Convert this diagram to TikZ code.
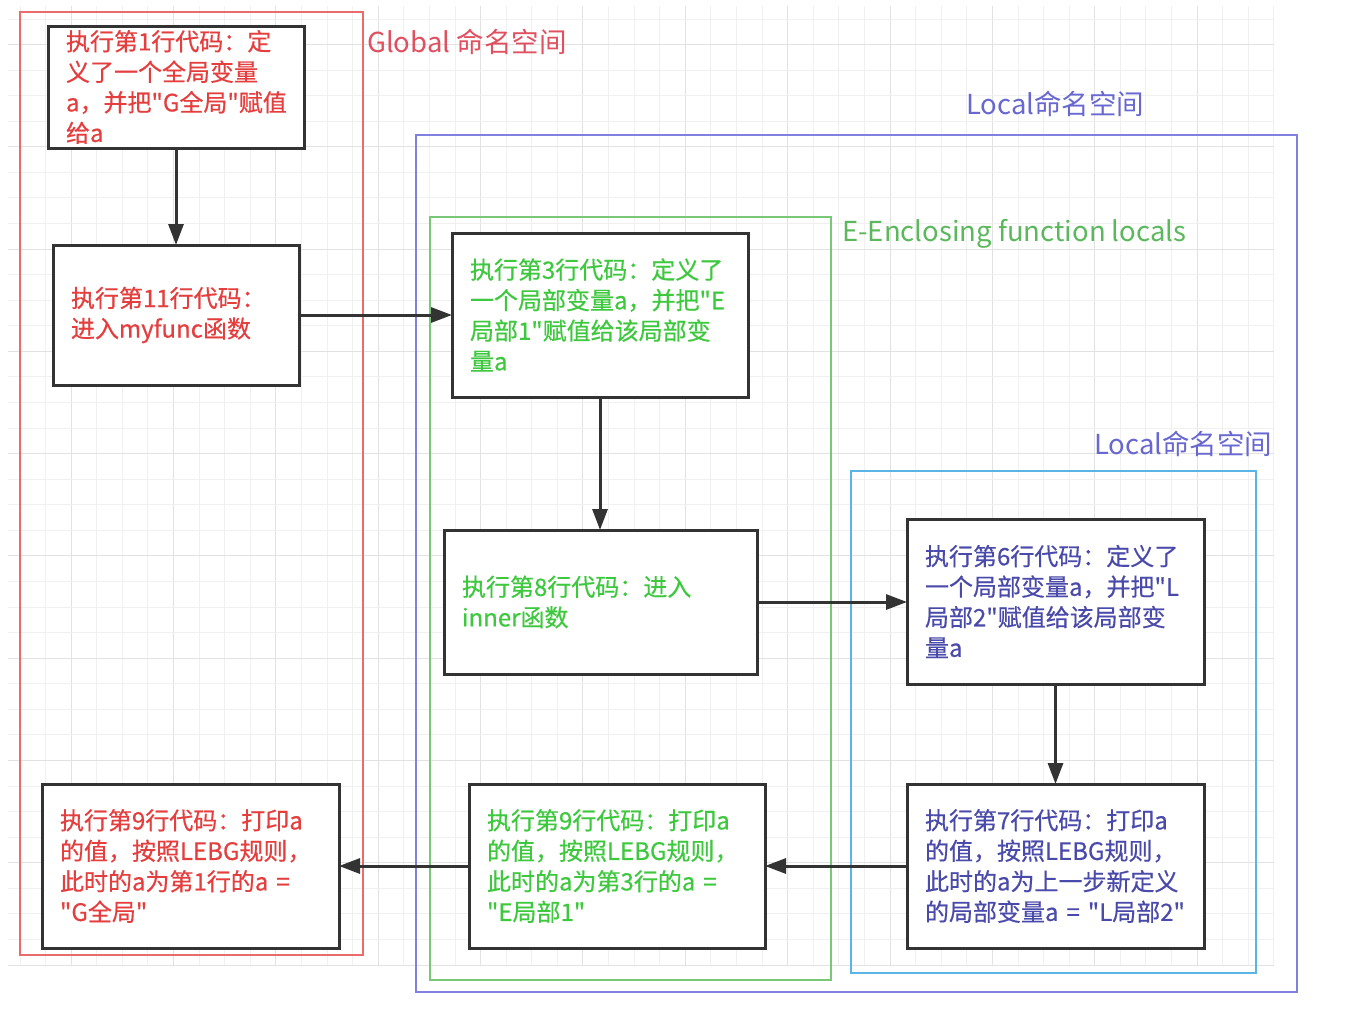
\documentclass[tikz,border=0pt]{standalone}
\usepackage{fontspec}
\setmainfont{Noto Sans CJK SC}[Ligatures=TeXOff]
\newfontfamily\stepfont{Noto Sans CJK SC}[Ligatures=TeXOff, FakeBold=0.5]
\usetikzlibrary{arrows.meta}
\definecolor{redtxt}{RGB}{228,62,62}
\definecolor{greentxt}{RGB}{62,200,62}
\definecolor{bluetxt}{RGB}{74,74,170}
\definecolor{redbox}{RGB}{234,107,107}
\definecolor{bluebox}{RGB}{128,128,224}
\definecolor{greenbox}{RGB}{120,200,120}
\definecolor{cyanbox}{RGB}{90,180,230}
\definecolor{glabel}{RGB}{224,80,96}
\definecolor{llabel}{RGB}{104,104,208}
\definecolor{elabel}{RGB}{92,184,92}
\definecolor{boxline}{RGB}{51,51,51}
\definecolor{gridminor}{RGB}{240,240,240}
\definecolor{gridmajor}{RGB}{226,226,226}
\tikzset{
  stepbox/.style={draw=boxline, line width=3pt, fill=white, inner xsep=18pt, inner ysep=0pt,
    outer sep=0pt, align=left, font=\stepfont\fontsize{24}{30.5}\selectfont},
  area/.style={draw=#1, line width=2pt, inner sep=0pt, outer sep=0pt},
  arealabel/.style={anchor=west, inner sep=0pt, text=#1, font=\fontsize{27.5}{30}\selectfont},
  arr/.style={draw=boxline, line width=3pt, -{Triangle[length=21pt,width=15pt]}}
}
\begin{document}
\begin{tikzpicture}[x=1pt,y=-1pt]
\useasboundingbox (0,0) rectangle (1354,1010);
\fill[white] (0,0) rectangle (1354,1010);
% grid
\foreach \k in {0,...,49}{
  \pgfmathsetmacro{\gx}{20+25.59*\k}
  \pgfmathtruncatemacro{\m}{mod(\k,4)}
  \ifnum\m=2
    \draw[gridmajor, line width=1pt] (\gx,6) -- (\gx,965);
  \else
    \draw[gridminor, line width=1pt] (\gx,6) -- (\gx,965);
  \fi
}
\foreach \k in {0,...,37}{
  \pgfmathsetmacro{\gy}{19+25.57*\k}
  \pgfmathtruncatemacro{\m}{mod(\k,4)}
  \ifnum\m=1
    \draw[gridmajor, line width=1pt] (8,\gy) -- (1274,\gy);
  \else
    \draw[gridminor, line width=1pt] (8,\gy) -- (1274,\gy);
  \fi
}
% namespace areas
\node[area=redbox, minimum width=343pt, minimum height=943pt] (gns) at (191.5,483.5) {};
\node[area=bluebox, minimum width=881pt, minimum height=857pt] (lns) at (856.5,563.5) {};
\node[area=greenbox, line width=1.6pt, minimum width=401pt, minimum height=763pt] (ens) at (630.5,598.5) {};
\node[area=cyanbox, minimum width=405pt, minimum height=502pt] (lns2) at (1053.5,722) {};
% area labels
\node[arealabel=glabel] (gl) at (367,42) {Global 命名空间};
\node[arealabel=llabel] (ll) at (966,104) {Local命名空间};
\node[arealabel=elabel] (el) at (842,234) {E-Enclosing function locals};
\node[arealabel=llabel] (ll2) at (1094,444) {Local命名空间};
% steps
\node[stepbox, text=redtxt, text width=220pt, minimum height=122pt] (n1) at (176,87)
  {执行第1行代码：定\\义了一个全局变量\\a，并把"G全局"赋值\\给a};
\node[stepbox, text=redtxt, text width=210pt, minimum height=140pt] (n2) at (176,315)
  {执行第11行代码：\\进入myfunc函数};
\node[stepbox, text=greentxt, text width=260pt, minimum height=164pt] (n3) at (600,315)
  {执行第3行代码：定义了\\一个局部变量a，并把"E\\局部1"赋值给该局部变\\量a};
\node[stepbox, text=greentxt, text width=277pt, minimum height=144pt] (n4) at (600.5,602)
  {执行第8行代码：进入\\inner函数};
\node[stepbox, text=bluetxt, text width=261pt, minimum height=165pt] (n5) at (1055.5,601.5)
  {执行第6行代码：定义了\\一个局部变量a，并把"L\\局部2"赋值给该局部变\\量a};
\node[stepbox, text=bluetxt, text width=261pt, minimum height=164pt] (n6) at (1055.5,866)
  {执行第7行代码：打印a\\的值，按照LEBG规则，\\此时的a为上一步新定义\\的局部变量a~=~"L局部2"};
\node[stepbox, text=greentxt, text width=260pt, minimum height=164pt] (n7) at (617,866)
  {执行第9行代码：打印a\\的值，按照LEBG规则，\\此时的a为第3行的a~=\\"E局部1"};
\node[stepbox, text=redtxt, text width=261pt, minimum height=164pt] (n8) at (190.5,866)
  {执行第9行代码：打印a\\的值，按照LEBG规则，\\此时的a为第1行的a~=\\"G全局"};
% connectors
\draw[arr] (n1.south) -- (n2.north);
\draw[arr] (n2.east) -- (n3.west);
\draw[arr] (n3.south) -- (n3.south |- n4.north);
\draw[arr] (n4.east) -- (n4.east -| n5.west);
\draw[arr] (n5.south) -- (n6.north);
\draw[arr] (n6.west) -- (n7.east);
\draw[arr] (n7.west) -- (n8.east);
\end{tikzpicture}
\end{document}
